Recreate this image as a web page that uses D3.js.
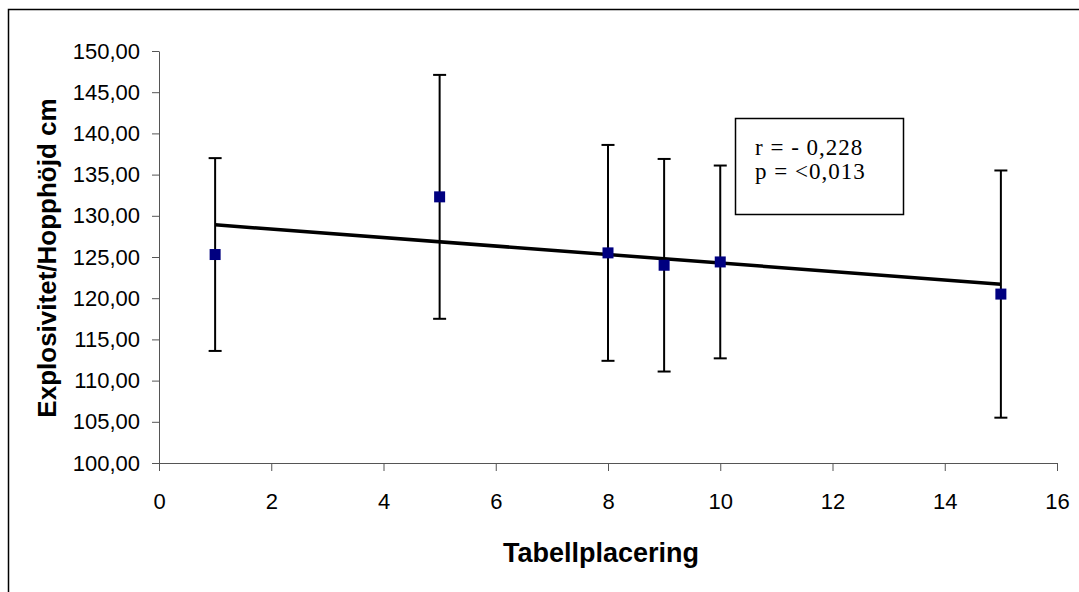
<!DOCTYPE html>
<html>
<head>
<meta charset="utf-8">
<script src="https://cdn.jsdelivr.net/npm/d3@7"></script>
<style>
  body { margin: 0; background: #fff; }
  svg { display: block; }
</style>
</head>
<body>
<div id="chart"></div>
<script>
// data
var placering = [1, 5, 8, 9, 10, 15];
var medel = [125.3, 132.3, 125.5, 124.0, 124.4, 120.5];
var sd = [11.7, 14.8, 13.1, 12.9, 11.7, 15.0];
var trendX = [1, 15];
var trendY = [128.9, 121.7];
var xTicks = [0, 2, 4, 6, 8, 10, 12, 14, 16];
var yTicks = [100, 105, 110, 115, 120, 125, 130, 135, 140, 145, 150];
var statText = ["r = - 0,228", "p = <0,013"];

var width = 1079,
    height = 592;

var svg = d3.select("#chart").append("svg")
    .attr("width", width)
    .attr("height", height);

// outer frame (right and bottom run off the picture)
svg.append("rect")
    .attr("x", 8.5).attr("y", 9.5)
    .attr("width", 1100).attr("height", 700)
    .attr("fill", "none")
    .attr("stroke", "#000")
    .attr("stroke-width", 1.5);

var x = d3.scaleLinear().domain([0, 16]).range([159, 1057]);
var y = d3.scaleLinear().domain([100, 150]).range([463, 51]);

var fmt = function(d) { return d3.format(".2f")(d).replace(".", ","); };

var xAxis = svg.append("g")
    .attr("transform", "translate(0,463)")
    .call(d3.axisBottom(x).tickValues(xTicks).tickSize(8).tickPadding(22).tickSizeOuter(0));

var yAxis = svg.append("g")
    .attr("transform", "translate(159,0)")
    .call(d3.axisLeft(y).tickValues(yTicks).tickFormat(fmt).tickSize(7).tickPadding(12).tickSizeOuter(0));

[xAxis, yAxis].forEach(function(g) {
  g.select(".domain").attr("stroke", "#555");
  g.selectAll(".tick line").attr("stroke", "#555");
  g.selectAll(".tick text")
    .attr("fill", "#000")
    .style("font-family", "Arial, 'Liberation Sans', sans-serif")
    .style("font-size", "22px");
});

// error bars
var bars = svg.append("g").selectAll("g")
    .data(placering)
    .enter().append("g");

bars.append("line")
    .attr("x1", function(d) { return x(d); })
    .attr("x2", function(d) { return x(d); })
    .attr("y1", function(d, i) { return y(medel[i] + sd[i]); })
    .attr("y2", function(d, i) { return y(medel[i] - sd[i]); })
    .attr("stroke", "#000").attr("stroke-width", 2);

[1, -1].forEach(function(s) {
  bars.append("line")
      .attr("x1", function(d) { return x(d) - 6.5; })
      .attr("x2", function(d) { return x(d) + 6.5; })
      .attr("y1", function(d, i) { return y(medel[i] + s * sd[i]); })
      .attr("y2", function(d, i) { return y(medel[i] + s * sd[i]); })
      .attr("stroke", "#000").attr("stroke-width", 2);
});

// trend line
svg.append("line")
    .attr("x1", x(trendX[0])).attr("y1", y(trendY[0]))
    .attr("x2", x(trendX[1])).attr("y2", y(trendY[1]))
    .attr("stroke", "#000").attr("stroke-width", 3.5);

// markers
svg.append("g").selectAll("rect")
    .data(placering)
    .enter().append("rect")
    .attr("x", function(d) { return x(d) - 5.5; })
    .attr("y", function(d, i) { return y(medel[i]) - 5.5; })
    .attr("width", 11).attr("height", 11)
    .attr("fill", "#000080");

// stats box
svg.append("rect")
    .attr("x", 735.5).attr("y", 118.5)
    .attr("width", 168).attr("height", 96)
    .attr("fill", "#fff")
    .attr("stroke", "#000").attr("stroke-width", 1.5);

svg.append("g").selectAll("text")
    .data(statText)
    .enter().append("text")
    .attr("x", 755)
    .attr("y", function(d, i) { return 155 + i * 24; })
    .style("font-family", "'Liberation Serif', 'Times New Roman', serif")
    .style("font-size", "23px")
    .style("letter-spacing", "1px")
    .text(function(d) { return d; });

// axis titles
svg.append("text")
    .attr("x", 601).attr("y", 562)
    .attr("text-anchor", "middle")
    .style("font-family", "Arial, 'Liberation Sans', sans-serif")
    .style("font-size", "27px")
    .style("font-weight", "bold")
    .text("Tabellplacering");

svg.append("text")
    .attr("transform", "translate(56,258) rotate(-90)")
    .attr("text-anchor", "middle")
    .style("font-family", "Arial, 'Liberation Sans', sans-serif")
    .style("font-size", "26px")
    .style("font-weight", "bold")
    .text("Explosivitet/Hopphöjd cm");
</script>
</body>
</html>
